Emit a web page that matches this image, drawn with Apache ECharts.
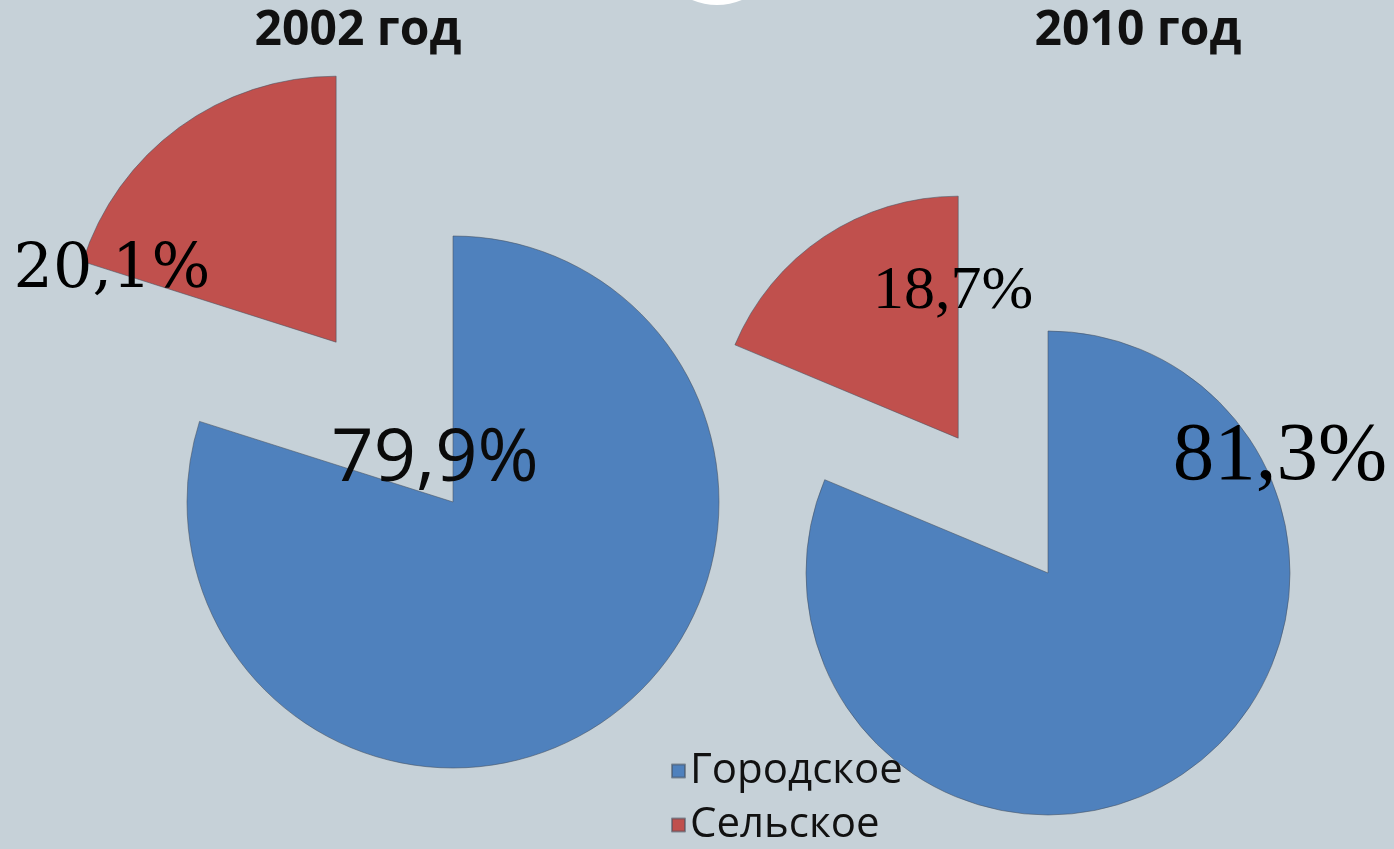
<!DOCTYPE html>
<html>
<head>
<meta charset="utf-8">
<style>
  html, body { margin: 0; padding: 0; background: #C6D1D8; }
  #chart { width: 1394px; height: 849px; }
</style>
<script src="https://cdn.jsdelivr.net/npm/echarts@6/dist/echarts.min.js"></script>
</head>
<body>
<div id="chart"></div>
<script>
// Urban / rural population shares, percent
const categories = ['Городское', 'Сельское'];
const years = ['2002 год', '2010 год'];
const share2002 = [79.9, 20.1];
const share2010 = [81.3, 18.7];

const colors = ['#4F81BD', '#C0504D'];
const fmt = v => v.toFixed(1).replace('.', ',') + '%';

function pieSeries(values, center, radius, offset) {
  return {
    type: 'pie',
    center: center,
    radius: radius,
    startAngle: 90,
    clockwise: true,
    selectedMode: 'multiple',
    selectedOffset: offset,
    avoidLabelOverlap: false,
    label: { show: false },
    labelLine: { show: false },
    emphasis: { disabled: true },
    itemStyle: { borderColor: 'rgba(70,80,95,0.55)', borderWidth: 1 },
    data: categories.map((name, i) => ({
      name: name,
      value: values[i],
      selected: i === 1,
      itemStyle: { color: colors[i] }
    }))
  };
}

// one legend row per category, stacked
function legendRow(name, top) {
  return {
    left: 666,
    top: top,
    icon: 'rect',
    itemWidth: 13,
    itemHeight: 13,
    itemGap: 0,
    selectedMode: false,
    data: [name],
    textStyle: {
      fontFamily: '"Open Sans", sans-serif',
      fontSize: 42,
      color: '#111',
      padding: [0, 0, 0, 0]
    }
  };
}

const chart = echarts.init(document.getElementById('chart'), null, { renderer: 'canvas' });

chart.setOption({
  backgroundColor: '#C6D1D8',
  animation: false,
  color: colors,
  legend: [
    legendRow(categories[0], 745),
    legendRow(categories[1], 799)
  ],
  series: [
    pieSeries(share2002, [453, 502], 266, 198),
    pieSeries(share2010, [1048, 573], 242, 162)
  ],
  graphic: [
    // top decoration
    { type: 'circle', shape: { cx: 717, cy: -60, r: 65 }, style: { fill: '#FFFFFF' }, z: 1 },
    // year headings
    { type: 'text', x: 358, y: 31, z: 10,
      style: { text: years[0], font: 'bold 48px "Open Sans", sans-serif', fill: '#111', align: 'center', verticalAlign: 'middle' } },
    { type: 'text', x: 1138, y: 31, z: 10,
      style: { text: years[1], font: 'bold 48px "Open Sans", sans-serif', fill: '#111', align: 'center', verticalAlign: 'middle' } },
    // value labels
    { type: 'text', x: 112, y: 271, z: 10,
      style: { text: fmt(share2002[1]), font: '62px "DejaVu Serif", serif', fill: '#000', align: 'center', verticalAlign: 'middle' } },
    { type: 'text', x: 435, y: 460, z: 10,
      style: { text: fmt(share2002[0]), font: '74px "Open Sans", sans-serif', fill: '#0a0a0a', align: 'center', verticalAlign: 'middle' } },
    { type: 'text', x: 953, y: 292, z: 10,
      style: { text: fmt(share2010[1]), font: '62px "Liberation Serif", serif', fill: '#000', align: 'center', verticalAlign: 'middle' } },
    { type: 'text', x: 1280, y: 457, z: 10,
      style: { text: fmt(share2010[0]), font: '83px "Liberation Serif", serif', fill: '#000', align: 'center', verticalAlign: 'middle' } }
  ]
});
</script>
</body>
</html>
